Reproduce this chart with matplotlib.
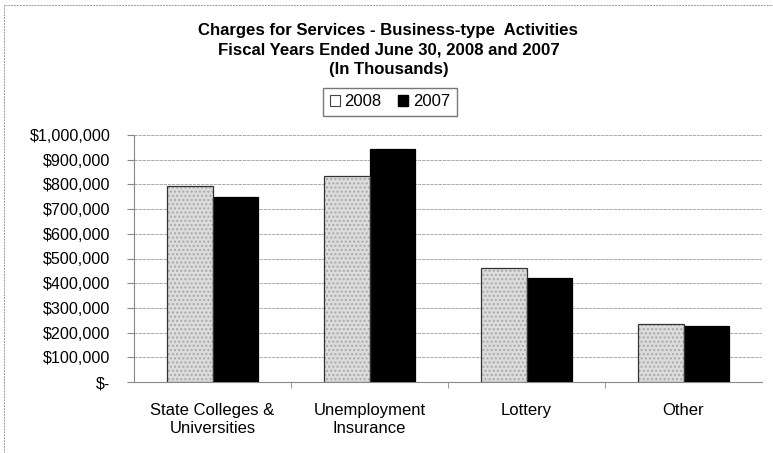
import numpy as np
import matplotlib.pyplot as plt
from matplotlib.patches import Rectangle, Patch
from matplotlib.ticker import FuncFormatter, FixedLocator

plt.rcParams['font.family'] = ['Liberation Sans', 'DejaVu Sans']

categories = ["State Colleges &\nUniversities", "Unemployment\nInsurance", "Lottery", "Other"]
fy2008 = [795000, 835000, 460000, 236000]
fy2007 = [750000, 943000, 420000, 227000]
yticks = np.arange(0, 1000001, 100000)


def dollars(v, pos):
    if v == 0:
        return "$-"
    return f"${v:,.0f}"


W, H = 773, 453
fig = plt.figure(figsize=(W / 100, H / 100), dpi=100)
ax = fig.add_axes([134 / W, 1 - 382 / H, (762 - 134) / W, (382 - 135) / H])

x = np.arange(len(categories))
bw = 0.287
# speckled grey fill for 2008, outline drawn separately
ax.bar(x - bw / 2, fy2008, bw, color="#dcdcdc", edgecolor="#a9a9a9",
       linewidth=0, hatch="....", zorder=3)
ax.bar(x - bw / 2, fy2008, bw, fill=False, edgecolor="#333333",
       linewidth=0.9, zorder=4)
ax.bar(x + bw / 2, fy2007, bw, color="black", edgecolor="black",
       linewidth=0.9, zorder=3)

ax.set_xlim(-0.5, len(categories) - 0.5)
ax.set_ylim(0, 1000000)
ax.set_yticks(yticks)
ax.yaxis.set_major_formatter(FuncFormatter(dollars))
ax.yaxis.grid(True, color="#a0a0a0", linewidth=0.6, linestyle=(0, (4, 1)), zorder=0)

ax.set_xticks(x)
ax.set_xticklabels(categories, fontsize=12, linespacing=1.3)
ax.tick_params(axis="x", length=0, pad=15)
ax.xaxis.set_minor_locator(FixedLocator(np.arange(0.5, len(categories) - 0.5, 1)))
ax.tick_params(axis="x", which="minor", length=4, direction="out", color="#888888")
ax.tick_params(axis="y", labelsize=11.6, length=5, direction="out", color="#888888", pad=12)

for side in ["top", "right"]:
    ax.spines[side].set_visible(False)
ax.spines["left"].set_color("#888888")
ax.spines["bottom"].set_color("#888888")
ax.spines["left"].set_linewidth(0.8)
ax.spines["bottom"].set_linewidth(0.8)

fig.text(0.5 + 2 / W, 1 - 50 / H,
         "Charges for Services - Business-type  Activities\n"
         "Fiscal Years Ended June 30, 2008 and 2007\n"
         "(In Thousands)",
         ha="center", va="center", fontsize=12.1, fontweight="bold",
         linespacing=1.4)

handles = [Patch(facecolor="white", edgecolor="#444444", linewidth=0.8),
           Patch(facecolor="black", edgecolor="black")]
fig.legend(handles, ["2008", "2007"], loc="center", ncol=2,
           bbox_to_anchor=(390 / W, 1 - 102 / H), fontsize=12,
           frameon=True, fancybox=False, edgecolor="#555555",
           handlelength=0.6, handleheight=0.6, handletextpad=0.3,
           columnspacing=1.0, borderpad=0.4)

# outer chart border
fig.patches.append(Rectangle((4 / W, -0.1), 1.2, 1.1 - 5 / H,
                             transform=fig.transFigure, fill=False,
                             edgecolor="#999999", linewidth=0.7,
                             linestyle=(0, (2, 1))))

fig.savefig("out.png", dpi=100)
